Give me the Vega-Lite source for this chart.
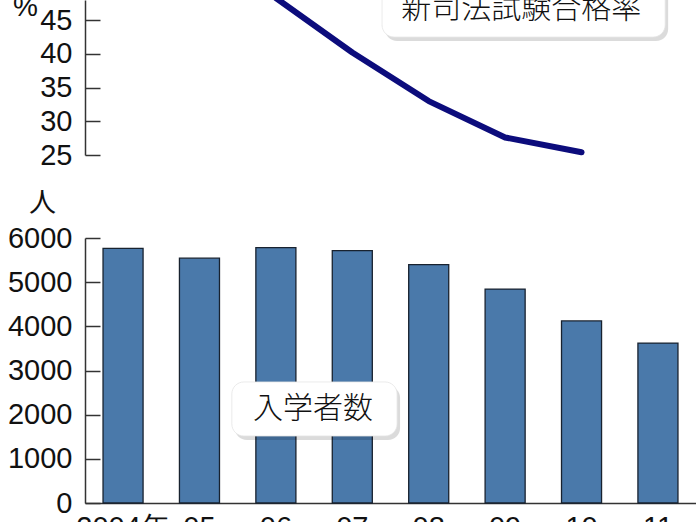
{
  "$schema": "https://vega.github.io/schema/vega-lite/v6.json",
  "width": 611,
  "height": 522,
  "autosize": {"type": "none"},
  "padding": {"left": 85, "top": 0, "right": 0, "bottom": 0},
  "background": "white",
  "config": {
    "view": {"stroke": null},
    "axis": {
      "grid": false,
      "domainColor": "#333333",
      "domainWidth": 1.5,
      "tickColor": "#333333",
      "tickWidth": 1.5,
      "labelColor": "#111111",
      "labelFont": "Liberation Sans",
      "labelFontSize": 29,
      "titleColor": "#111111",
      "titleFontWeight": "normal"
    }
  },
  "datasets": {
    "enroll": [
      {"year": "2004年", "students": 5767},
      {"year": "05", "students": 5544},
      {"year": "06", "students": 5784},
      {"year": "07", "students": 5713},
      {"year": "08", "students": 5397},
      {"year": "09", "students": 4844},
      {"year": "10", "students": 4122},
      {"year": "11", "students": 3620}
    ],
    "pass": [
      {"year": "06", "rate": 48.3},
      {"year": "07", "rate": 40.2},
      {"year": "08", "rate": 33.0},
      {"year": "09", "rate": 27.6},
      {"year": "10", "rate": 25.4}
    ],
    "label_enroll": [
      {"from": "06", "to": "08", "top": 2740, "bottom": 1517, "at": "07", "mid": 2128, "label": "入学者数"}
    ],
    "label_pass": [
      {"from": "08", "to": "11", "top": 51, "bottom": 42.5, "at": "09", "mid": 46.6, "label": "新司法試験合格率"}
    ]
  },
  "layer": [
    {
      "layer": [
        {
          "data": {"name": "enroll"},
          "mark": {"type": "bar", "color": "#4a79aa", "stroke": "#18222f", "strokeWidth": 1.3},
          "encoding": {
            "x": {
              "field": "year",
              "type": "ordinal",
              "sort": null,
              "scale": {
                "domain": ["2004年", "05", "06", "07", "08", "09", "10", "11"],
                "paddingInner": 0.476,
                "paddingOuter": 0.236
              },
              "axis": {
                "title": null,
                "ticks": false,
                "offset": -19,
                "labelPadding": 10,
                "labelAngle": 0
              }
            },
            "y": {
              "field": "students",
              "type": "quantitative",
              "scale": {"domain": [0, 6000], "range": [503, 238], "nice": false},
              "axis": {
                "orient": "left",
                "values": [0, 1000, 2000, 3000, 4000, 5000, 6000],
                "format": "d",
                "tickSize": -15,
                "labelPadding": 28,
                "title": "人",
                "titleFont": "Noto Sans CJK JP",
                "titleFontSize": 27,
                "titleAngle": 0,
                "titleAlign": "center",
                "titleBaseline": "middle",
                "titleX": -43,
                "titleY": 203
              }
            }
          }
        },
        {
          "data": {"name": "label_enroll"},
          "mark": {"type": "rect", "fill": "#000000", "opacity": 0.14, "cornerRadius": 12, "xOffset": 3, "x2Offset": 3, "yOffset": 4, "y2Offset": 4},
          "encoding": {
            "x": {"field": "from", "type": "ordinal", "bandPosition": -0.6},
            "x2": {"field": "to", "bandPosition": -0.29},
            "y": {"field": "top", "type": "quantitative"},
            "y2": {"field": "bottom"}
          }
        },
        {
          "data": {"name": "label_enroll"},
          "mark": {"type": "rect", "fill": "white", "stroke": "#e4e4e4", "strokeWidth": 0.8, "cornerRadius": 12},
          "encoding": {
            "x": {"field": "from", "type": "ordinal", "bandPosition": -0.6},
            "x2": {"field": "to", "bandPosition": -0.29},
            "y": {"field": "top", "type": "quantitative"},
            "y2": {"field": "bottom"}
          }
        },
        {
          "data": {"name": "label_enroll"},
          "mark": {"type": "text", "font": "Noto Sans CJK JP", "fontSize": 30, "fontWeight": 300, "color": "#111111", "align": "center", "baseline": "middle"},
          "encoding": {
            "x": {"field": "at", "type": "ordinal", "bandPosition": -0.48},
            "y": {"field": "mid", "type": "quantitative"},
            "text": {"field": "label"}
          }
        }
      ]
    },
    {
      "layer": [
        {
          "data": {"name": "pass"},
          "mark": {"type": "line", "color": "#0c0c7c", "strokeWidth": 6, "strokeCap": "round", "strokeJoin": "round", "clip": false},
          "encoding": {
            "x": {"field": "year", "type": "ordinal", "sort": null},
            "y": {
              "field": "rate",
              "type": "quantitative",
              "scale": {"domain": [25, 48], "range": [155, 0], "nice": false, "zero": false},
              "axis": {
                "orient": "left",
                "values": [25, 30, 35, 40, 45],
                "format": "d",
                "tickSize": -15,
                "labelPadding": 28,
                "title": "%",
                "titleFont": "Liberation Sans",
                "titleFontSize": 28,
                "titleAngle": 0,
                "titleAlign": "center",
                "titleBaseline": "alphabetic",
                "titleX": -60,
                "titleY": 15
              }
            }
          }
        },
        {
          "data": {"name": "label_pass"},
          "mark": {"type": "rect", "fill": "#000000", "opacity": 0.14, "cornerRadius": 12, "clip": false, "xOffset": 3, "x2Offset": 3, "yOffset": 4, "y2Offset": 4},
          "encoding": {
            "x": {"field": "from", "type": "ordinal", "bandPosition": -0.665},
            "x2": {"field": "to", "bandPosition": 0.68},
            "y": {"field": "top", "type": "quantitative"},
            "y2": {"field": "bottom"}
          }
        },
        {
          "data": {"name": "label_pass"},
          "mark": {"type": "rect", "fill": "white", "stroke": "#e4e4e4", "strokeWidth": 0.8, "cornerRadius": 12, "clip": false},
          "encoding": {
            "x": {"field": "from", "type": "ordinal", "bandPosition": -0.665},
            "x2": {"field": "to", "bandPosition": 0.68},
            "y": {"field": "top", "type": "quantitative"},
            "y2": {"field": "bottom"}
          }
        },
        {
          "data": {"name": "label_pass"},
          "mark": {"type": "text", "font": "Noto Sans CJK JP", "fontSize": 30, "fontWeight": 300, "color": "#111111", "align": "center", "baseline": "middle"},
          "encoding": {
            "x": {"field": "at", "type": "ordinal", "bandPosition": 0.9},
            "y": {"field": "mid", "type": "quantitative"},
            "text": {"field": "label"}
          }
        }
      ]
    }
  ],
  "resolve": {"scale": {"y": "independent"}, "axis": {"y": "independent"}}
}
